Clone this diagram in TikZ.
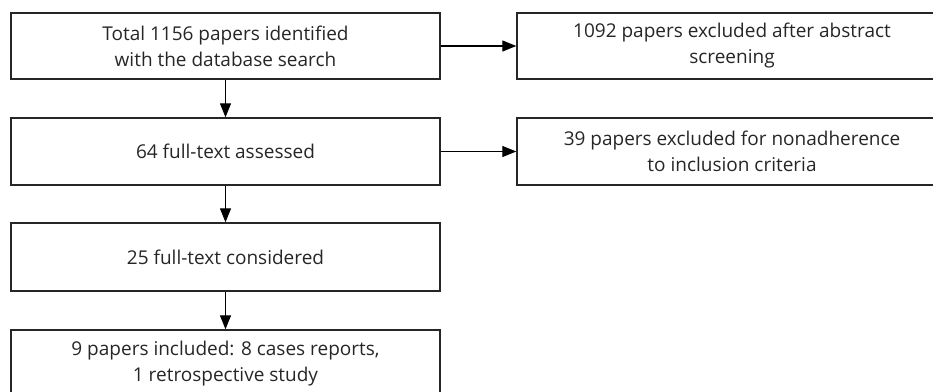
\documentclass[tikz,border=0pt]{standalone}
\usepackage{fontspec}
\setmainfont{Open Sans}
\usetikzlibrary{arrows.meta}
\begin{document}
\begin{tikzpicture}[x=1pt,y=-1pt,
  box/.style={draw=black!85,line width=1.4pt,align=center,inner sep=0pt,
    font=\fontsize{19}{26}\selectfont,text=black!85},
  arr/.style={line width=1.1pt,-{Triangle[length=14pt,width=11pt]}}]
\useasboundingbox (0,0) rectangle (933,391);
\clip (0,0) rectangle (933,391);
\node[box,minimum width=429pt,minimum height=66pt] (a) at (225.5,46) {Total 1156 papers identified\\with the database search};
\node[box,minimum width=430pt,minimum height=66pt] (b) at (732,46) {1092 papers excluded after abstract\\screening};
\node[box,minimum width=429pt,minimum height=67pt] (c) at (225.5,151.5) {64 full-text assessed};
\node[box,minimum width=430pt,minimum height=67pt] (d) at (732,151.5) {39 papers excluded for nonadherence\\to inclusion criteria};
\node[box,minimum width=429pt,minimum height=68pt] (e) at (225.5,257) {25 full-text considered};
\node[box,minimum width=429pt,minimum height=67pt] (f) at (225.5,363.5) {9 papers included: 8 cases reports,\\1 retrospective study};
\draw[arr] (a) -- (b);
\draw[arr] (c) -- (d);
\draw[arr] (a) -- (c);
\draw[arr] (c) -- (e);
\draw[arr] (e) -- (f);
\end{tikzpicture}
\end{document}
